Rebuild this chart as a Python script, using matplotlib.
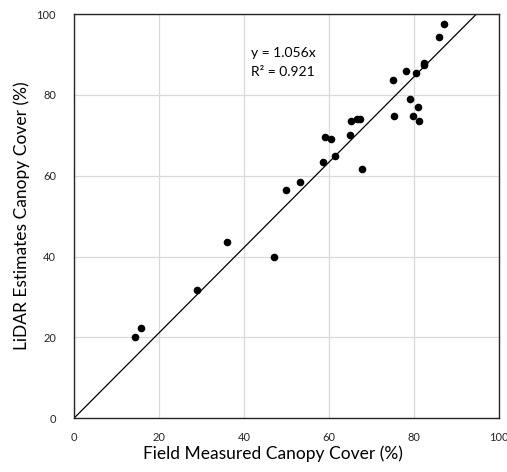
import numpy as np
import matplotlib.pyplot as plt

plt.rcParams['font.family'] = ['Lato', 'DejaVu Sans']

# field measured vs lidar estimated canopy cover (%)
field = [87.1, 85.9, 82.3, 82.4, 78.1, 80.5, 75.0, 79.1, 80.9, 75.3, 79.7, 81.2,
         65.1, 66.7, 67.3, 59.1, 60.5, 64.9, 61.5, 58.5, 67.8, 53.1, 50.0,
         36.0, 47.0, 29.0, 15.8, 14.4]
lidar = [97.6, 94.4, 88.0, 87.4, 85.9, 85.4, 83.8, 78.9, 76.9, 74.8, 74.8, 73.5,
         73.5, 74.0, 74.0, 69.6, 69.2, 70.0, 64.9, 63.4, 61.6, 58.5, 56.5,
         43.7, 39.9, 31.7, 22.4, 20.1]
slope = 1.056
r2 = 0.921
ticks = [0, 20, 40, 60, 80, 100]

fig = plt.figure(figsize=(5.07, 4.72), dpi=100)
ax = fig.add_axes([0.146, 0.114, 0.838, 0.856])

ax.scatter(field, lidar, s=20, color='black', zorder=3)
xl = np.array([0, 100 / slope])
ax.plot(xl, slope * xl, color='black', lw=0.9, zorder=2)

ax.text(41.6, 90.3, f'y = {slope}x', fontsize=10, va='center')
ax.text(41.6, 85.6, f'R² = {r2}', fontsize=10, va='center')

ax.set_xlim(0, 100)
ax.set_ylim(0, 100)
ax.set_xticks(ticks)
ax.set_yticks(ticks)
ax.tick_params(length=0, labelsize=8, colors='#262626')
ax.tick_params(axis='y', pad=13)
ax.tick_params(axis='x', pad=10)
ax.grid(True, color='#d9d9d9', lw=0.9)
ax.set_axisbelow(True)
for s in ax.spines.values():
    s.set_color('#262626')
    s.set_linewidth(1.0)

ax.set_xlabel('Field Measured Canopy Cover (%)', fontsize=12.5)
ax.set_ylabel('LiDAR Estimates Canopy Cover (%)', fontsize=12.5)
ax.xaxis.set_label_coords(0.468, -0.068)
ax.yaxis.set_label_coords(-0.104, 0.5)

fig.savefig('out.png', dpi=100)
